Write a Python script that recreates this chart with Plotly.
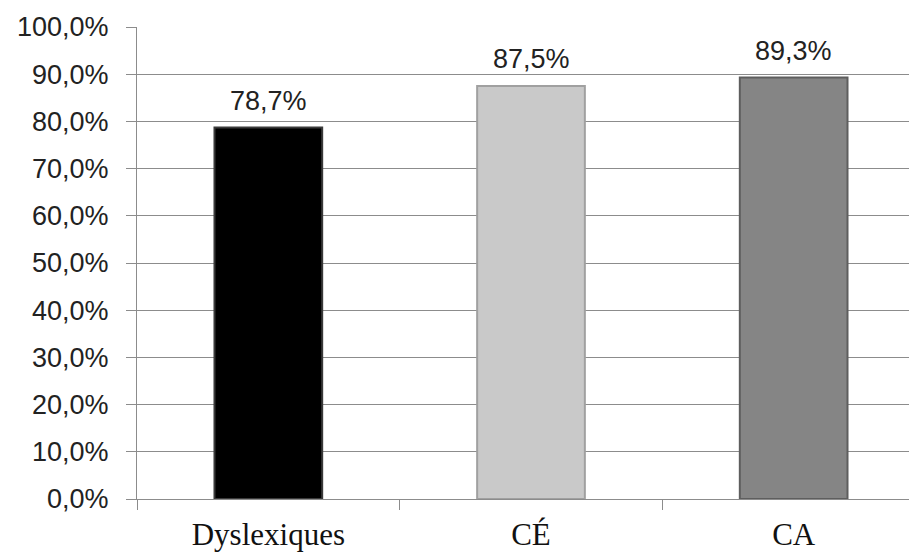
import plotly.graph_objects as go

categories = ["Dyslexiques", "CÉ", "CA"]
values = [78.7, 87.5, 89.3]
labels = ["78,7%", "87,5%", "89,3%"]
bar_colors = ["#000000", "#c9c9c9", "#858585"]
edge_colors = ["#3a3a3a", "#a0a0a0", "#5e5e5e"]
tick_vals = [0, 10, 20, 30, 40, 50, 60, 70, 80, 90, 100]
tick_text = ["0,0%", "10,0%", "20,0%", "30,0%", "40,0%", "50,0%",
             "60,0%", "70,0%", "80,0%", "90,0%", "100,0%"]

fig = go.Figure()
fig.add_trace(go.Bar(
    x=categories, y=values, width=0.41,
    marker=dict(color=bar_colors, line=dict(color=edge_colors, width=2)),
))

for c, v, t in zip(categories, values, labels):
    fig.add_annotation(
        x=c, y=v, text=t, showarrow=False, yanchor="bottom", yshift=10,
        font=dict(family="Liberation Sans", size=27, color="#222222"),
    )

fig.update_layout(
    width=917, height=552,
    margin=dict(l=129, r=0, t=19, b=61),
    paper_bgcolor="white", plot_bgcolor="white",
    showlegend=False,
    xaxis=dict(
        range=[-0.5, 2.5], automargin=False,
        showline=True, linecolor="#8c8c8c", linewidth=1,
        ticks="outside", tickson="boundaries", ticklen=10, tickcolor="#8c8c8c",
        tickfont=dict(family="Liberation Serif", size=31, color="#111111"),
        ticklabelstandoff=8,
        showgrid=False,
    ),
    yaxis=dict(
        range=[0, 100], automargin=False,
        tickvals=tick_vals, ticktext=tick_text,
        showline=True, linecolor="#8c8c8c", linewidth=1,
        ticks="outside", ticklen=10, tickcolor="#8c8c8c",
        ticklabelstandoff=12,
        showgrid=True, gridcolor="#8c8c8c", gridwidth=1,
        tickfont=dict(family="Liberation Sans", size=27, color="#222222"),
        zeroline=False,
    ),
)

fig.write_html("out.html")
